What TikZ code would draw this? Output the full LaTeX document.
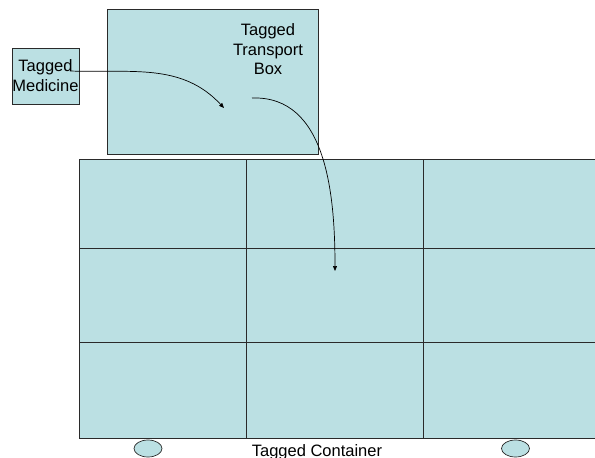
\documentclass[tikz,border=0pt]{standalone}
\usepackage{fontspec}
\setmainfont{Liberation Sans}
\usetikzlibrary{arrows.meta}
\definecolor{cargo}{HTML}{BBE0E3}
\definecolor{edge}{HTML}{2A2A2A}

\begin{document}
\begin{tikzpicture}[x=1pt,y=-1pt, line width=.8pt,
    box/.style={draw=edge, fill=cargo, rectangle, inner sep=0pt},
    label/.style={font=\fontsize{16.5}{19.5}\selectfont, align=center, inner sep=0pt},
    wheel/.style={draw=edge, fill=cargo, line width=.7pt},
    move/.style={draw=black, line width=.7pt, -{Triangle[length=5pt,width=4pt]}}]
  \useasboundingbox (0,0) rectangle (595,458);
  % container: 3x3 grid of cells, runs off the right edge
  \fill[cargo] (79,159) rectangle (600,438);
  \draw[edge] (600,159) -- (79,159) -- (79,438) -- (600,438);
  \foreach \gx in {246,423} \draw[edge] (\gx,159) -- (\gx,438);
  \foreach \gy in {248,342} \draw[edge] (79,\gy) -- (600,\gy);
  % wheels and caption
  \draw[wheel] (148,448.5) ellipse (14 and 8.5);
  \draw[wheel] (515.5,448.5) ellipse (14 and 8.5);
  \node[label, anchor=base] (cont) at (317,456) {Tagged Container};
  % transport box and the medicine beside it
  \node[box, minimum width=211pt, minimum height=145pt] (tbox) at (212.5,81.5) {};
  \node[label, anchor=north] (tlabel) at (268,23.5) {Tagged\\Transport\\Box};
  \node[box, minimum width=67pt, minimum height=56pt] (med) at (45.5,76) {};
  \node[label, anchor=north] (mlabel) at (45.5,59.5) {Tagged\\Medicine};
  % paths of the goods
  \coordinate (m0) at (70,71);
  \coordinate (m1) at (224,108);
  \coordinate (b0) at (252,98);
  \coordinate (b1) at (335,271);
  \draw[move] (m0) to[out=-2, in=133] (m1);
  \draw[move] (b0) to[out=2, in=90] (b1);
\end{tikzpicture}
\end{document}
